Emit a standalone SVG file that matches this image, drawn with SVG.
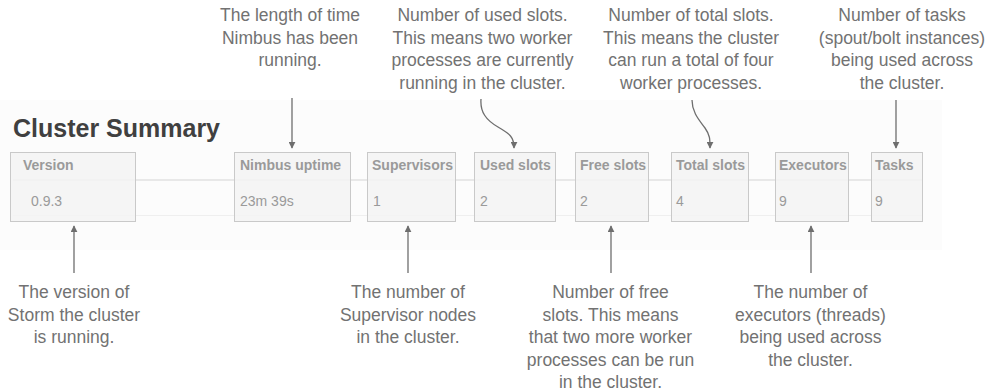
<svg xmlns="http://www.w3.org/2000/svg" width="985" height="392" viewBox="0 0 985 392">
<defs>
<marker id="ah" viewBox="0 0 10 10" refX="9" refY="5" markerWidth="7" markerHeight="7" markerUnits="userSpaceOnUse" orient="auto">
<path d="M0,0 L10,5 L0,10 z" fill="#6e6e6e"/>
</marker>
<style>
.note{font-family:"Liberation Sans",Arial,sans-serif;font-size:17.5px;fill:#727272;text-anchor:middle}
.hd{font-family:"Liberation Sans",Arial,sans-serif;font-size:14px;font-weight:bold;fill:#9a9a9a}
.val{font-family:"Liberation Sans",Arial,sans-serif;font-size:14px;fill:#9a9a9a}
.box{fill:#f3f3f3;fill-opacity:0.85;stroke:#c9c9c9;stroke-width:1}
.con{fill:none;stroke:#6e6e6e;stroke-width:1.3;marker-end:url(#ah)}
</style>
</defs>
<rect x="0" y="100" width="942" height="150" fill="#fcfcfc"/>
<text x="13" y="137" font-family="'Liberation Sans',Arial,sans-serif" font-size="25" font-weight="bold" fill="#404040">Cluster Summary</text>
<g id="rows">
<line x1="13" y1="180" x2="922" y2="180" stroke="#e2e2e2" stroke-width="1.5"/>
<line x1="13" y1="215.5" x2="922" y2="215.5" stroke="#efefef" stroke-width="1"/>
</g>
<g id="version"><rect class="box" x="10.5" y="152.5" width="125" height="69"/><text class="hd" x="23" y="170">Version</text><text class="val" x="31" y="206">0.9.3</text></g>
<g id="nimbus"><rect class="box" x="234.5" y="152.5" width="116" height="69"/><text class="hd" x="240" y="170">Nimbus uptime</text><text class="val" x="240" y="206">23m 39s</text></g>
<g id="supervisors"><rect class="box" x="367.5" y="152.5" width="88" height="69"/><text class="hd" x="372" y="170">Supervisors</text><text class="val" x="373" y="206">1</text></g>
<g id="used"><rect class="box" x="474.5" y="152.5" width="81" height="69"/><text class="hd" x="480" y="170">Used slots</text><text class="val" x="480" y="206">2</text></g>
<g id="free"><rect class="box" x="575.5" y="152.5" width="73" height="69"/><text class="hd" x="580" y="170">Free slots</text><text class="val" x="580" y="206">2</text></g>
<g id="total"><rect class="box" x="671.5" y="152.5" width="77" height="69"/><text class="hd" x="676" y="170">Total slots</text><text class="val" x="676" y="206">4</text></g>
<g id="executors"><rect class="box" x="775.5" y="152.5" width="73" height="69"/><text class="hd" x="779" y="170">Executors</text><text class="val" x="779" y="206">9</text></g>
<g id="tasks"><rect class="box" x="871.5" y="152.5" width="51" height="69"/><text class="hd" x="875" y="170">Tasks</text><text class="val" x="875" y="206">9</text></g>

<g id="note-nimbus"><text class="note"><tspan x="290" y="21">The length of time</tspan><tspan x="290" y="43.5">Nimbus has been</tspan><tspan x="290" y="66">running.</tspan></text></g>
<g id="note-used"><text class="note"><tspan x="482.5" y="21">Number of used slots.</tspan><tspan x="482.5" y="43.5">This means two worker</tspan><tspan x="482.5" y="66">processes are currently</tspan><tspan x="482.5" y="88.5">running in the cluster.</tspan></text></g>
<g id="note-total"><text class="note"><tspan x="691" y="21">Number of total slots.</tspan><tspan x="691" y="43.5">This means the cluster</tspan><tspan x="691" y="66">can run a total of four</tspan><tspan x="691" y="88.5">worker processes.</tspan></text></g>
<g id="note-tasks"><text class="note"><tspan x="902" y="21">Number of tasks</tspan><tspan x="902" y="43.5">(spout/bolt instances)</tspan><tspan x="902" y="66">being used across</tspan><tspan x="902" y="88.5">the cluster.</tspan></text></g>
<g id="note-version"><text class="note"><tspan x="74" y="298">The version of</tspan><tspan x="74" y="320.5">Storm the cluster</tspan><tspan x="74" y="343">is running.</tspan></text></g>
<g id="note-supervisors"><text class="note"><tspan x="408" y="298">The number of</tspan><tspan x="408" y="320.5">Supervisor nodes</tspan><tspan x="408" y="343">in the cluster.</tspan></text></g>
<g id="note-free"><text class="note"><tspan x="610.5" y="298">Number of free</tspan><tspan x="610.5" y="320.5">slots. This means</tspan><tspan x="610.5" y="343">that two more worker</tspan><tspan x="610.5" y="365.5">processes can be run</tspan><tspan x="610.5" y="388">in the cluster.</tspan></text></g>
<g id="note-executors"><text class="note"><tspan x="810.5" y="298">The number of</tspan><tspan x="810.5" y="320.5">executors (threads)</tspan><tspan x="810.5" y="343">being used across</tspan><tspan x="810.5" y="365.5">the cluster.</tspan></text></g>

<g id="connectors">
<path class="con" d="M292,98 L292,148"/>
<path class="con" d="M481,99 C480,112 486,120 498,127 C510,134 514,137 514,148"/>
<path class="con" d="M692,100 C692,113 700,121 705,128 C710,135 710,139 710,148"/>
<path class="con" d="M896,100 L896,148"/>
<path class="con" d="M74,273 L74,226"/>
<path class="con" d="M408,273 L408,226"/>
<path class="con" d="M611,273 L611,226"/>
<path class="con" d="M811,273 L811,226"/>
</g>
</svg>
